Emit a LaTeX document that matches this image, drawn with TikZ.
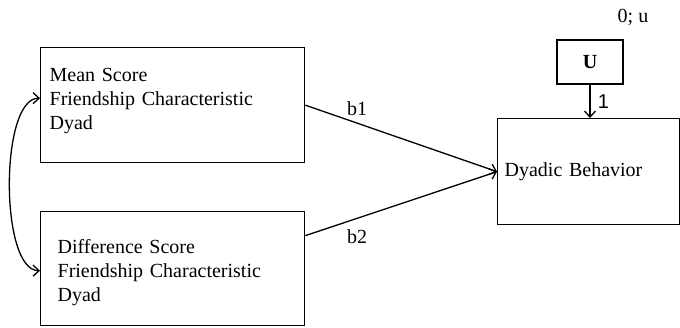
\documentclass[tikz,border=0pt]{standalone}
\usepackage{fontspec}
\setmainfont{Liberation Serif}
\newfontfamily\armfont{Liberation Sans}
\usetikzlibrary{arrows.meta}
\tikzstyle{block} = [rectangle, draw=black, line width=1.3pt, minimum width=264pt, minimum height=115pt, align=left, anchor=north west, font=\fontsize{20}{24}\selectfont]
\tikzstyle{outcome} = [rectangle, draw=black, line width=1.3pt, minimum width=182pt, minimum height=106pt, text width=168pt, inner xsep=7pt, align=left, anchor=north west, font=\fontsize{20}{24}\selectfont]
\tikzstyle{resid} = [rectangle, draw=black, line width=1.3pt, minimum width=66pt, minimum height=44pt, font=\fontsize{20}{24}\selectfont\bfseries]
\tikzstyle{lbl} = [font=\fontsize{20}{24}\selectfont]
\tikzstyle{arrow} = [line width=1.3pt,->,>={Straight Barb[length=6pt,width=11pt]}]

\begin{document}
\begin{tikzpicture}[x=1pt,y=1pt]
\useasboundingbox (0,0) rectangle (680,327);

\node (mean) [block, inner xsep=9pt, text width=246pt] at (40,280) {Mean Score\\Friendship Characteristic\\Dyad\rule[-12pt]{0pt}{12pt}};
\node (diff) [block, inner xsep=17pt, text width=230pt, minimum height=114pt] at (40,116) {\rule{0pt}{22pt}Difference Score\\Friendship Characteristic\\Dyad};
\node (dyad) [outcome] at (497,209) {Dyadic Behavior};
\node (u) [resid] at (590,265) {U};
\node (uvar) [lbl] at (633,310) {0; u};

\draw [arrow] (mean.east) -- node[lbl, pos=0.27, above=3pt] {b1} (dyad.west);
\draw [arrow] ([yshift=33pt]diff.east) -- node[lbl, pos=0.27, below=7pt] {b2} (dyad.west);
\draw [arrow] (u.south) -- node[right=4pt, font=\fontsize{20}{24}\selectfont\armfont] {1} (u.south |- dyad.north);
\draw [arrow, <->] ([yshift=7pt]mean.west) to[out=180, in=180, looseness=0.6] ([yshift=-2pt]diff.west);

\end{tikzpicture}
\end{document}
